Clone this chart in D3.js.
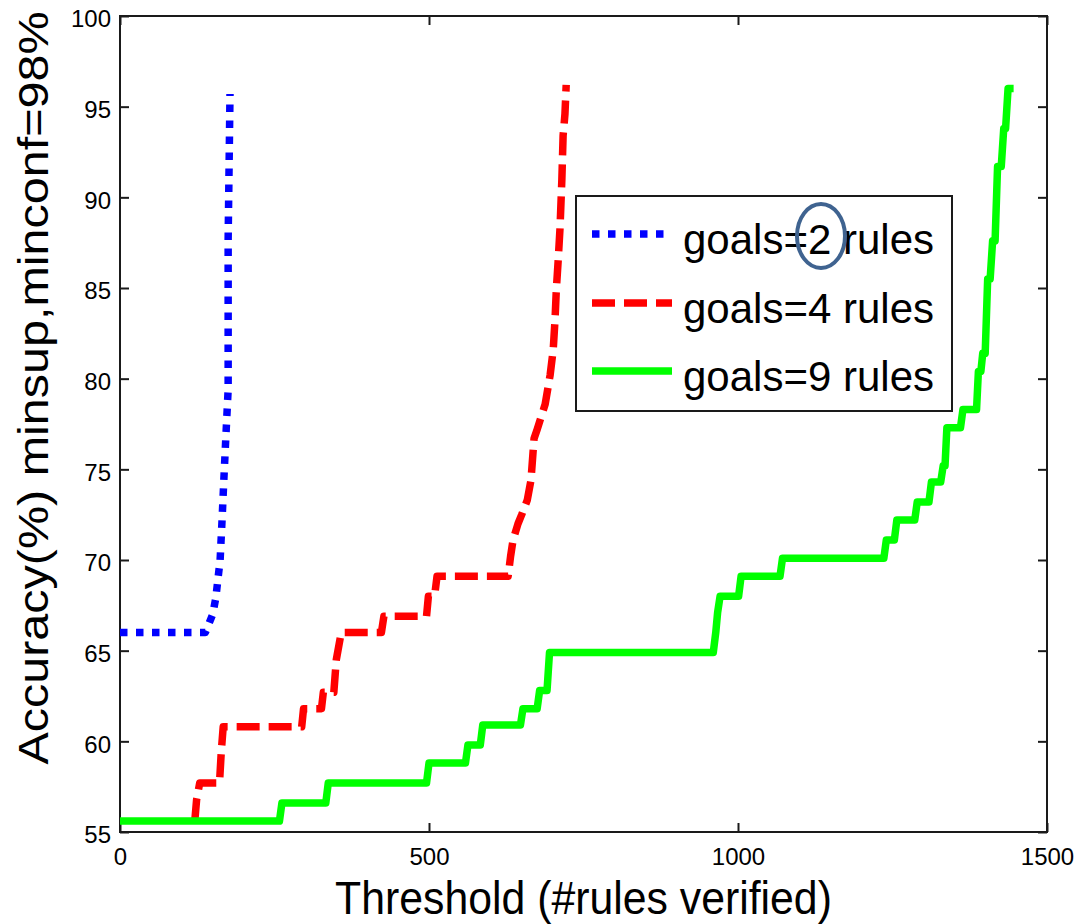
<!DOCTYPE html>
<html>
<head>
<meta charset="utf-8">
<script src="https://cdn.jsdelivr.net/npm/d3@7"></script>
<style>
    body { margin: 0; background: #fff; }
    text { font-family: "Liberation Sans", Arial, sans-serif; fill: #000; }
</style>
</head>
<body>
<div id="chart"></div>
<script>
const WIDTH = 1077;
const HEIGHT = 924;

const xTicks = [0, 500, 1000, 1500];
const yTicks = [55, 60, 65, 70, 75, 80, 85, 90, 95, 100];

// [threshold, accuracy] vertices
const goals2 = [[0, 66], [138, 66], [150, 67], [155, 67.9], [162, 70], [165, 72.1], [168, 74.4],
    [172, 77.3], [175, 79.4], [175, 87.7], [178, 95.7]];

const goals4 = [[121, 55.6], [124, 56.8], [129, 57.7], [161, 57.7], [164, 59.5], [167, 60.8],
    [294, 60.8], [297, 61.8], [326, 61.8], [329, 62.7], [346, 62.7], [350, 64.5], [358, 66.0],
    [423, 66.0], [427, 66.9], [496, 66.9], [499, 68.0], [509, 68.0], [513, 69.1], [628, 69.1],
    [632, 70.2], [636, 71.1], [644, 72.0], [650, 72.5], [659, 73.3], [665, 74.4], [670, 76.7],
    [675, 77.2], [688, 78.6], [696, 80.2], [701, 81.6], [704, 83.3], [706, 84.9], [709, 86.5],
    [712, 88.3], [715, 91.0], [717, 93.4], [720, 94.6], [722, 96.2]];

const goals9 = [[0, 55.6], [258, 55.6], [262, 56.6], [333, 56.6], [337, 57.7], [496, 57.7],
    [500, 58.8], [559, 58.8], [563, 59.8], [583, 59.8], [587, 60.9], [648, 60.9], [652, 61.8],
    [675, 61.8], [679, 62.8], [691, 62.8], [695, 64.9], [960, 64.9], [964, 66.0], [967, 67.1],
    [971, 68.0], [1001, 68.0], [1005, 69.1], [1068, 69.1], [1072, 70.1], [1236, 70.1],
    [1240, 71.1], [1253, 71.1], [1257, 72.2], [1286, 72.2], [1290, 73.2], [1309, 73.2],
    [1313, 74.3], [1328, 74.3], [1332, 75.2], [1335, 75.2], [1338, 77.3], [1360, 77.3],
    [1364, 78.3], [1386, 78.3], [1389, 80.4], [1393, 80.4], [1396, 81.4], [1400, 81.4],
    [1404, 85.5], [1408, 85.5], [1412, 87.6], [1416, 87.6], [1420, 91.7], [1426, 91.7],
    [1430, 93.8], [1433, 93.8], [1437, 96.0], [1446, 96.0]];

const seriesNames = ["goals=2 rules", "goals=4 rules", "goals=9 rules"];
const seriesColors = ["#0000ff", "#ff0000", "#00ff00"];
const seriesDash = ["7.5,8.5", "23,9", null];

const svg = d3.select("#chart")
    .append("svg")
    .attr("width", WIDTH)
    .attr("height", HEIGHT);

const x = d3.scaleLinear().domain([0, 1500]).range([120, 1047]);
const y = d3.scaleLinear().domain([55, 100]).range([832, 16]);

// ---------------------------------- axes ------------------------------------
const AXIS_COLOR = "#1a1a1a";
const TICK = 9;

function styleAxis(g) {
    g.select(".domain").remove();
    g.selectAll(".tick line").attr("stroke", AXIS_COLOR).attr("stroke-width", 2);
    g.selectAll(".tick text").style("font-size", "24px").attr("fill", "#000");
}

svg.append("g")
    .attr("transform", `translate(0,${y(55)})`)
    .call(d3.axisBottom(x).tickValues(xTicks).tickFormat(d3.format("d"))
        .tickSizeInner(-TICK).tickSizeOuter(0).tickPadding(16))
    .call(styleAxis);

svg.append("g")
    .attr("transform", `translate(0,${y(100)})`)
    .call(d3.axisTop(x).tickValues(xTicks).tickSizeInner(-TICK).tickSizeOuter(0).tickFormat(""))
    .call(styleAxis);

svg.append("g")
    .attr("transform", `translate(${x(0)},0)`)
    .call(d3.axisLeft(y).tickValues(yTicks).tickSizeInner(-TICK).tickSizeOuter(0).tickPadding(9))
    .call(styleAxis)
    .selectAll(".tick text").attr("dy", "0.45em");

svg.append("g")
    .attr("transform", `translate(${x(1500)},0)`)
    .call(d3.axisRight(y).tickValues(yTicks).tickSizeInner(-TICK).tickSizeOuter(0).tickFormat(""))
    .call(styleAxis);

svg.append("rect")
    .attr("x", x(0))
    .attr("y", y(100))
    .attr("width", x(1500) - x(0))
    .attr("height", y(55) - y(100))
    .attr("fill", "none")
    .attr("stroke", AXIS_COLOR)
    .attr("stroke-width", 2);

// axis titles (the source glyphs are a little condensed)
svg.append("text")
    .attr("transform", `translate(${(x(0) + x(1500)) / 2},914) scale(0.93,1)`)
    .attr("text-anchor", "middle")
    .style("font-size", "46px")
    .text("Threshold (#rules verified)");

svg.append("text")
    .attr("transform", `translate(48,388) scale(0.86,1) rotate(-90)`)
    .attr("text-anchor", "middle")
    .style("font-size", "48.5px")
    .text("Accuracy(%) minsup,minconf=98%");

// ---------------------------------- lines ------------------------------------
const line = d3.line()
    .x(d => x(d[0]))
    .y(d => y(d[1]));

[goals2, goals4, goals9].forEach((data, i) => {
    svg.append("path")
        .datum(data)
        .attr("d", line)
        .attr("fill", "none")
        .attr("stroke", seriesColors[i])
        .attr("stroke-width", 7.5)
        .attr("stroke-linejoin", "round")
        .attr("stroke-dasharray", seriesDash[i]);
});

// ---------------------------------- legend ------------------------------------
const legend = svg.append("g");
legend.append("rect")
    .attr("x", 576)
    .attr("y", 196)
    .attr("width", 952 - 576)
    .attr("height", 411 - 196)
    .attr("fill", "#fff")
    .attr("stroke", AXIS_COLOR)
    .attr("stroke-width", 2);

const rowY = [234, 303, 371];
seriesNames.forEach((name, i) => {
    legend.append("line")
        .attr("x1", 592)
        .attr("x2", 672)
        .attr("y1", rowY[i])
        .attr("y2", rowY[i])
        .attr("stroke", seriesColors[i])
        .attr("stroke-width", 7.5)
        .attr("stroke-dasharray", seriesDash[i]);
    legend.append("text")
        .attr("x", 683)
        .attr("y", rowY[i] + 20)
        .style("font-size", "42px")
        .text(name);
});

// highlight circle around the "2"
legend.append("ellipse")
    .attr("cx", 821)
    .attr("cy", 236)
    .attr("rx", 24)
    .attr("ry", 32)
    .attr("fill", "none")
    .attr("stroke", "#3f6390")
    .attr("stroke-width", 4);
</script>
</body>
</html>
